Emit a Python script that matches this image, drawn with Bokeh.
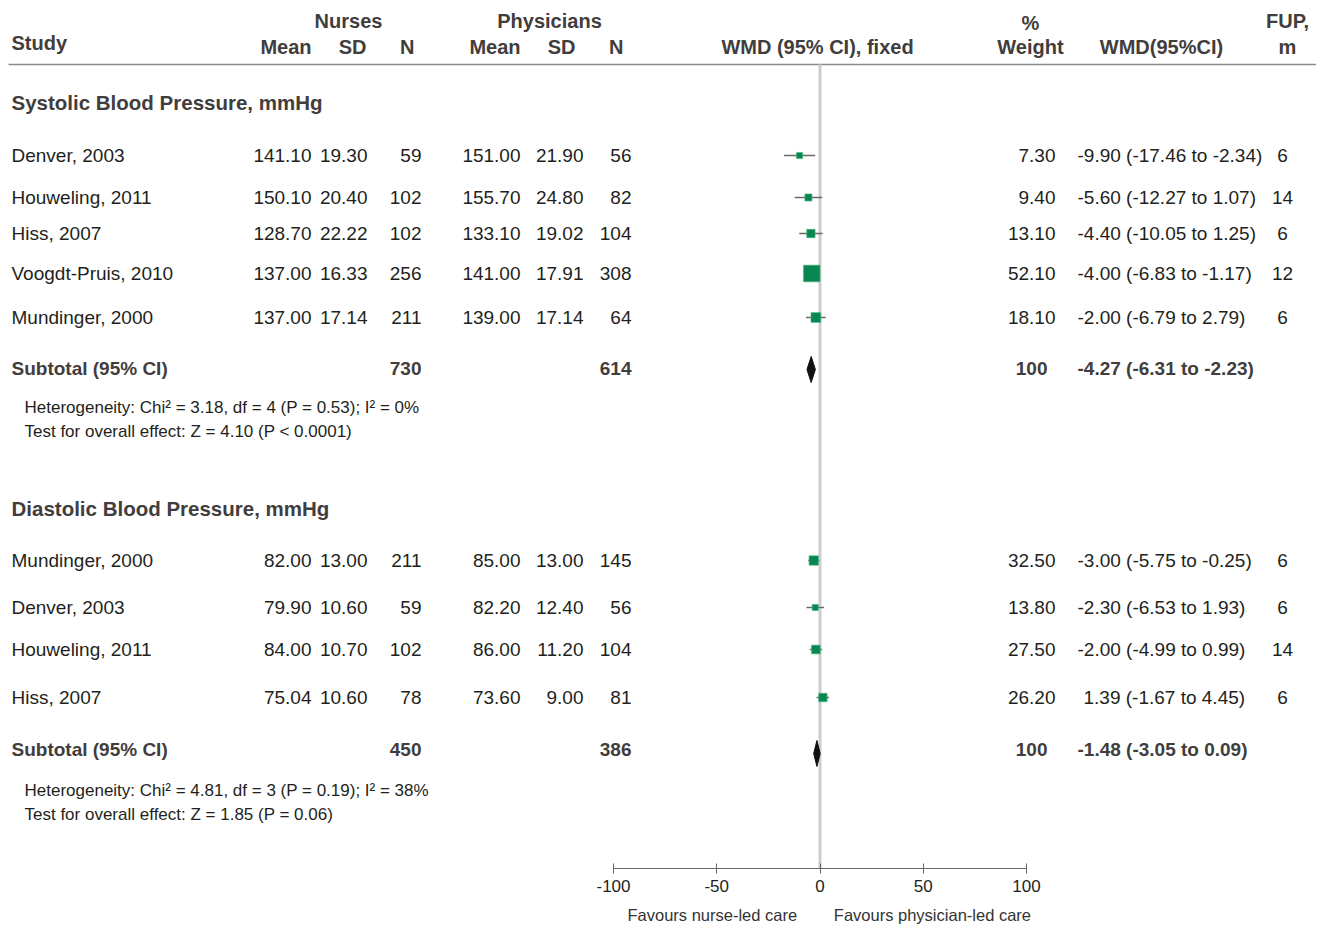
from bokeh.plotting import figure
from bokeh.models import Range1d, FixedTicker, Title
from bokeh.embed import file_html
from bokeh.resources import INLINE
from bokeh.core.properties import value

# ---------------- data ----------------
sbp_study = ["Denver, 2003", "Houweling, 2011", "Hiss, 2007", "Voogdt-Pruis, 2010", "Mundinger, 2000"]
sbp_n_mean = [141.10, 150.10, 128.70, 137.00, 137.00]
sbp_n_sd = [19.30, 20.40, 22.22, 16.33, 17.14]
sbp_n_n = [59, 102, 102, 256, 211]
sbp_p_mean = [151.00, 155.70, 133.10, 141.00, 139.00]
sbp_p_sd = [21.90, 24.80, 19.02, 17.91, 17.14]
sbp_p_n = [56, 82, 104, 308, 64]
sbp_wmd = [-9.90, -5.60, -4.40, -4.00, -2.00]
sbp_lo = [-17.46, -12.27, -10.05, -6.83, -6.79]
sbp_hi = [-2.34, 1.07, 1.25, -1.17, 2.79]
sbp_weight = [7.30, 9.40, 13.10, 52.10, 18.10]
sbp_fup = [6, 14, 6, 12, 6]
sbp_total_n = [730, 614]
sbp_total_wmd = [-4.27, -6.31, -2.23]
sbp_het = ["Heterogeneity:  Chi\u00b2 = 3.18, df = 4 (P = 0.53); I\u00b2 = 0%",
           "Test for overall  effect:  Z = 4.10 (P < 0.0001)"]

dbp_study = ["Mundinger, 2000", "Denver, 2003", "Houweling, 2011", "Hiss, 2007"]
dbp_n_mean = [82.00, 79.90, 84.00, 75.04]
dbp_n_sd = [13.00, 10.60, 10.70, 10.60]
dbp_n_n = [211, 59, 102, 78]
dbp_p_mean = [85.00, 82.20, 86.00, 73.60]
dbp_p_sd = [13.00, 12.40, 11.20, 9.00]
dbp_p_n = [145, 56, 104, 81]
dbp_wmd = [-3.00, -2.30, -2.00, 1.39]
dbp_lo = [-5.75, -6.53, -4.99, -1.67]
dbp_hi = [-0.25, 1.93, 0.99, 4.45]
dbp_weight = [32.50, 13.80, 27.50, 26.20]
dbp_fup = [6, 6, 14, 6]
dbp_total_n = [450, 386]
dbp_total_wmd = [-1.48, -3.05, 0.09]
dbp_het = ["Heterogeneity:  Chi\u00b2 = 4.81, df = 3 (P = 0.19); I\u00b2 = 38%",
           "Test for overall  effect:  Z = 1.85 (P = 0.06)"]

axis_ticks = [-100, -50, 0, 50, 100]

# ---------------- style / layout ----------------
FONT = "Liberation Sans"
BODY = "#231f20"
HEAD = "#423d3d"
GREEN = "#07874f"
FS = "19px"
HS = "20px"
SMALL = "17px"


def px(xp):
    # horizontal pixel (page) -> WMD axis unit
    return -100 + (xp - 613) * 200.0 / 413.0


p = figure(frame_width=1316, frame_height=868,
           x_range=Range1d(px(0), px(1316)), y_range=Range1d(868, 0),
           output_backend="svg", toolbar_location=None,
           x_axis_location="below", y_axis_location=None,
           min_border=0, outline_line_color=None,
           background_fill_color="white", border_fill_color="white")
p.grid.visible = False

ax = p.xaxis[0]
ax.ticker = FixedTicker(ticks=axis_ticks)
ax.major_label_overrides = {t: str(t) for t in axis_ticks}
ax.bounds = (-100, 100)
ax.major_tick_in = 5
ax.major_tick_out = 5
ax.minor_tick_in = 0
ax.minor_tick_out = 0
ax.axis_line_color = "#666666"
ax.major_tick_line_color = "#666666"
ax.major_label_text_font = FONT
ax.major_label_text_font_size = "17px"
ax.major_label_text_color = BODY
ax.major_label_standoff = 6

nb = "\u00a0"
p.add_layout(Title(text="Favours" + nb + "nurse-led" + nb + "care" + nb * 8 + "Favours" + nb + "physician-led" + nb + "care",
                   align="left", offset=627, text_font=FONT, text_font_size="16.5px",
                   text_font_style="normal", text_color="#333333", standoff=19), "below")


def txt(xp_list, ys, texts, align="left", size=FS, bold=False, color=BODY):
    p.text(x=[px(v) for v in xp_list], y=ys, text=texts, text_align=align,
           text_baseline="middle", text_font=value(FONT), text_font_size=size,
           text_font_style="bold" if bold else "normal", text_color=color)


# header
txt([348, 549], [20, 20], ["Nurses", "Physicians"], align="center", bold=True, color=HEAD, size=HS)
txt([1030, 1287], [22, 20], ["%", "FUP,"], align="center", bold=True, color=HEAD, size=HS)
txt([11], [42], ["Study"], bold=True, color=HEAD, size=HS)
txt([311, 366, 414, 520, 575, 623], [46] * 6, ["Mean", "SD", "N", "Mean", "SD", "N"],
    align="right", bold=True, color=HEAD, size=HS)
txt([817, 1030, 1161, 1287], [46] * 4, ["WMD (95% CI), fixed", "Weight", "WMD(95%CI)", "m"],
    align="center", bold=True, color=HEAD, size=HS)

# header rule and zero line
p.segment(x0=[px(8)], y0=[64], x1=[px(1316)], y1=[64], line_color="#8a8a8a", line_width=1.5)
p.segment(x0=[0], y0=[64], x1=[0], y1=[868], line_color="#cdcdcd", line_width=3)


def group(title, ty, ys, study, nm, nsd, nn, pm, psd, pn, wmd, lo, hi, wt, fup,
          tot_n, tot_wmd, sub_y, dia_y, het, het_y, k):
    txt([11], [ty], [title], bold=True, color=HEAD, size="20.5px")
    txt([11] * len(ys), ys, study)
    txt([311] * len(ys), ys, [f"{v:.2f}" for v in nm], align="right")
    txt([367] * len(ys), ys, [f"{v:.2f}" for v in nsd], align="right")
    txt([421] * len(ys), ys, [str(v) for v in nn], align="right")
    txt([520] * len(ys), ys, [f"{v:.2f}" for v in pm], align="right")
    txt([583] * len(ys), ys, [f"{v:.2f}" for v in psd], align="right")
    txt([631] * len(ys), ys, [str(v) for v in pn], align="right")
    txt([1055] * len(ys), ys, [f"{v:.2f}" for v in wt], align="right")
    txt([1077 + (6 if w >= 0 else 0) for w in wmd], ys,
        [f"{w:.2f} ({a:.2f} to {b:.2f})" for w, a, b in zip(wmd, lo, hi)])
    txt([1282] * len(ys), ys, [str(v) for v in fup], align="center")

    # CI lines and squares
    p.segment(x0=lo, y0=ys, x1=hi, y1=ys, line_color="#6a6a6a", line_width=1.5)
    p.scatter(x=wmd, y=ys, marker="square", size=[k * w ** 0.5 for w in wt],
              fill_color=GREEN, line_color="#4fb68a", line_width=0.7)

    # subtotal
    txt([11], [sub_y], ["Subtotal (95% CI)"], bold=True, color=HEAD)
    txt([421, 631], [sub_y, sub_y], [str(v) for v in tot_n], align="right", bold=True, color=HEAD)
    txt([1047], [sub_y], ["100"], align="right", bold=True, color=HEAD)
    est, a, b = tot_wmd
    txt([1077], [sub_y], [f"{est:.2f} ({a:.2f} to {b:.2f})"], bold=True, color=HEAD)
    h = 13
    p.patches(xs=[[a, est, b, est]], ys=[[dia_y, dia_y - h, dia_y, dia_y + h]],
              fill_color="#111111", line_color="#111111", line_width=1)

    txt([24, 24], het_y, het, size=SMALL)


group("Systolic Blood Pressure, mmHg", 102, [155, 197, 233, 273, 317],
      sbp_study, sbp_n_mean, sbp_n_sd, sbp_n_n, sbp_p_mean, sbp_p_sd, sbp_p_n,
      sbp_wmd, sbp_lo, sbp_hi, sbp_weight, sbp_fup, sbp_total_n, sbp_total_wmd,
      368, 369, sbp_het, [407, 431], 2.3)

group("Diastolic Blood Pressure, mmHg", 508, [560, 607, 649, 697],
      dbp_study, dbp_n_mean, dbp_n_sd, dbp_n_n, dbp_p_mean, dbp_p_sd, dbp_p_n,
      dbp_wmd, dbp_lo, dbp_hi, dbp_weight, dbp_fup, dbp_total_n, dbp_total_wmd,
      749, 753, dbp_het, [790, 814], 1.65)

open("out.html", "w").write(file_html(p, INLINE))
